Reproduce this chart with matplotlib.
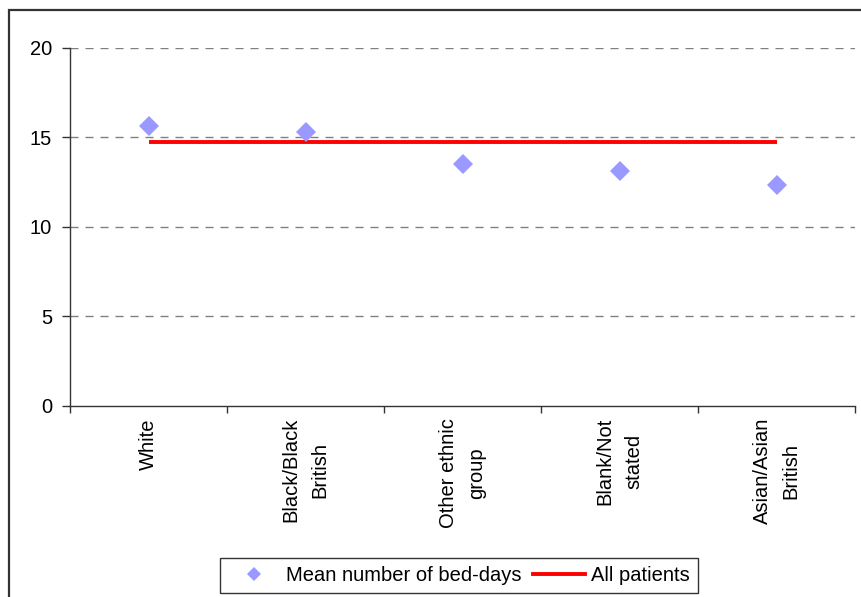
import matplotlib
matplotlib.use("Agg")
import matplotlib.pyplot as plt
from matplotlib.patches import Rectangle
from matplotlib.lines import Line2D

# Data
categories = ["White", "Black/Black\nBritish", "Other ethnic\ngroup",
              "Blank/Not\nstated", "Asian/Asian\nBritish"]
mean_bed_days = [15.6, 15.3, 13.5, 13.1, 12.3]
all_patients = 14.75
y_ticks = [0, 5, 10, 15, 20]

plt.rcParams["font.family"] = ["Liberation Sans", "DejaVu Sans"]

W, H = 862, 597
FS = 14.5
fig = plt.figure(figsize=(W / 100, H / 100), dpi=100)
ax = fig.add_axes([70 / W, 1 - 405.5 / H, (855 - 70) / W, (405.5 - 47.7) / H])

x = list(range(1, len(categories) + 1))

# Gridlines
for yv in y_ticks[1:]:
    ax.axhline(yv, color="#808080", lw=1.0, dashes=(5.8, 5.0), zorder=1)

# Average across all patients
ax.plot([x[0], x[-1]], [all_patients, all_patients], color="#FF0000",
        lw=2.8, solid_capstyle="butt", zorder=2)

# Mean bed-days per group
ax.plot(x, mean_bed_days, linestyle="none", marker="D", markersize=10.5,
        color="#9999FF", markeredgewidth=0, zorder=3)

ax.set_xlim(0.5, len(categories) + 0.5)
ax.set_ylim(0, 20)
ax.set_yticks(y_ticks)
ax.set_yticklabels([str(v) for v in y_ticks], fontsize=FS)

ax.set_xticks(x)
ax.set_xticklabels(categories, rotation=90, fontsize=FS, va="top",
                   ha="center", multialignment="center", linespacing=1.65)
ax.set_xticks([v + 0.5 for v in range(len(categories) + 1)], minor=True)
ax.tick_params(axis="x", which="major", length=0, pad=9)
ax.tick_params(axis="x", which="minor", length=5, width=1, color="#333333",
               direction="out")
ax.tick_params(axis="y", length=6, width=1, color="#333333", pad=7,
               direction="out")

for s in ("top", "right"):
    ax.spines[s].set_visible(False)
for s in ("left", "bottom"):
    ax.spines[s].set_color("#333333")
    ax.spines[s].set_linewidth(1.0)

# Legend
handles = [
    Line2D([], [], linestyle="none", marker="D", markersize=7,
           color="#9999FF", markeredgewidth=0),
    Line2D([], [], color="#FF0000", lw=2.8),
]
leg = fig.legend(handles, ["Mean number of bed-days", "All patients"],
                 loc="center", bbox_to_anchor=(459 / W, 1 - 575.5 / H),
                 ncol=2, fontsize=FS, frameon=True, fancybox=False,
                 handlelength=2.6, handletextpad=0.3, columnspacing=0.55,
                 borderpad=0.4, edgecolor="#000000")
leg.get_frame().set_linewidth(1.0)

# Outer frame around the chart
fig.patches.append(Rectangle((9 / W, -0.1), 1.2, 1 - 10 / H + 0.1,
                             transform=fig.transFigure, fill=False,
                             edgecolor="#333333", lw=1.6, zorder=10))

fig.savefig("out.png", dpi=100)
